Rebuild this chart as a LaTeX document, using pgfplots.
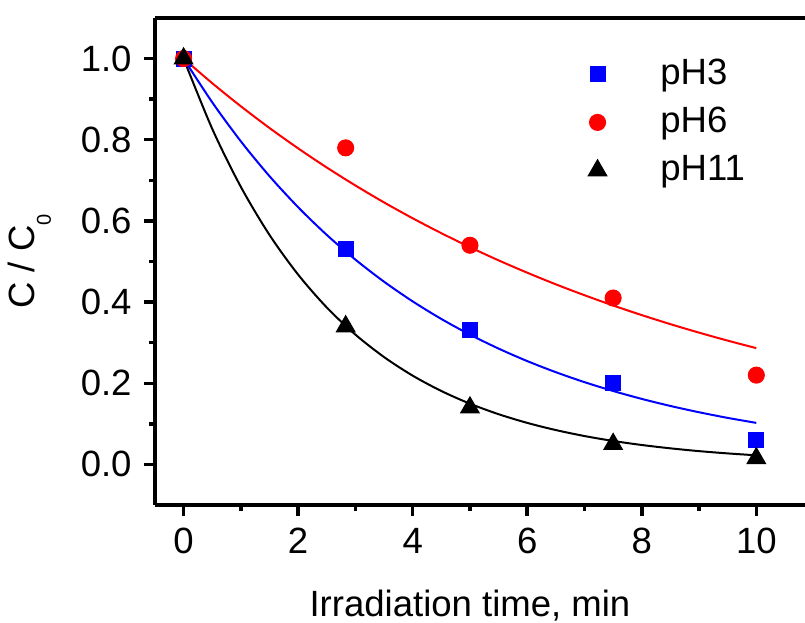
\documentclass[border=0pt]{standalone}
\usepackage{fontspec}
\setmainfont{Liberation Sans}
\usepackage{pgfplots}
\pgfplotsset{compat=1.18}

\begin{document}
\begin{tikzpicture}
\fontsize{13.7}{16}\selectfont
\begin{axis}[
  scale only axis,
  width=243.75pt, height=182.6pt,
  xmin=-0.5, xmax=10.85,
  ymin=-0.1, ymax=1.1,
  axis x line*=box,
  axis y line*=left,
  xtick pos=left,
  ytick pos=left,
  xtick={0,2,4,6,8,10},
  ytick={0,0.2,0.4,0.6,0.8,1.0},
  minor x tick num=1,
  minor y tick num=1,
  tick align=outside,
  major tick length=4pt,
  minor tick length=2.3pt,
  every tick/.style={line width=1.3pt, black},
  axis line style={line width=1.5pt},
  /pgf/number format/assume math mode=true,
  tick label style={font=\fontsize{13.7}{16}\selectfont},
  yticklabel style={/pgf/number format/.cd, fixed, fixed zerofill, precision=1},
  xlabel={Irradiation time, min},
  ylabel={C / C\raisebox{-0.45em}{\fontsize{7.5}{8}\selectfont 0}},
  xlabel style={at={(rel axis cs:0.4846,0)}, anchor=base, yshift=-42pt, font=\fontsize{13.7}{16}\selectfont},
  every axis y label/.style={at={(rel axis cs:0,0.5)}, anchor=center, xshift=-47pt, rotate=90, font=\fontsize{13.7}{16}\selectfont},
  legend style={at={(0.615,0.921)}, anchor=north west, draw=none, fill=none,
    inner sep=0pt, row sep=5pt, font=\fontsize{13.7}{16}\selectfont,
    nodes={inner ysep=0pt, text height=0.75em, text depth=0.2em}},
  legend cell align=left,
  markleg/.style={legend image code/.code={\path (0cm,0cm) (1.3cm,0cm); \draw[##1] plot coordinates {(0.55cm,0cm)};}},
]

% fitted curves
\addplot[blue, line width=0.75pt, smooth, forget plot] coordinates {
  (0,1) (0.5,0.8923) (1,0.7961) (1.5,0.7103) (2,0.6338) (2.5,0.5655)
  (3,0.5046) (3.5,0.4502) (4,0.4017) (4.5,0.3584) (5,0.3198) (5.5,0.2854)
  (6,0.2546) (6.5,0.2272) (7,0.2027) (7.5,0.1809) (8,0.1614) (8.5,0.1440)
  (9,0.1285) (9.5,0.1146) (10,0.1023)
};
\addplot[red, line width=0.75pt, smooth, forget plot] coordinates {
  (0,1) (0.5,0.9394) (1,0.8825) (1.5,0.8290) (2,0.7788) (2.5,0.7316)
  (3,0.6873) (3.5,0.6456) (4,0.6065) (4.5,0.5698) (5,0.5353) (5.5,0.5028)
  (6,0.4724) (6.5,0.4437) (7,0.4169) (7.5,0.3916) (8,0.3679) (8.5,0.3456)
  (9,0.3247) (9.5,0.3050) (10,0.2865)
};
\addplot[black, line width=0.75pt, smooth, forget plot] coordinates {
  (0,1) (0.5,0.8270) (1,0.6839) (1.5,0.5655) (2,0.4677) (2.5,0.3867)
  (3,0.3198) (3.5,0.2645) (4,0.2187) (4.5,0.1809) (5,0.1496) (5.5,0.1237)
  (6,0.1023) (6.5,0.0846) (7,0.0699) (7.5,0.0578) (8,0.0478) (8.5,0.0396)
  (9,0.0327) (9.5,0.0271) (10,0.0224)
};

% measured points
\addplot[only marks, mark=square*, blue, mark size=2.8pt, markleg] coordinates {
  (0,1.0) (2.83,0.53) (5,0.33) (7.5,0.20) (10,0.06)
};
\addlegendentry{pH3}
\addplot[only marks, mark=*, red, mark size=3pt, markleg] coordinates {
  (0,1.0) (2.83,0.78) (5,0.54) (7.5,0.41) (10,0.22)
};
\addlegendentry{pH6}
\addplot[only marks, mark=triangle*, black, mark size=4pt, markleg] coordinates {
  (0,1.0) (2.83,0.34) (5,0.14) (7.5,0.05) (10,0.015)
};
\addlegendentry{pH11}
\end{axis}
\pgfresetboundingbox
\path ([xshift=-58.1pt,yshift=-43.9pt]current axis.south west) rectangle ([yshift=6.75pt]current axis.north east);
\end{tikzpicture}
\end{document}
